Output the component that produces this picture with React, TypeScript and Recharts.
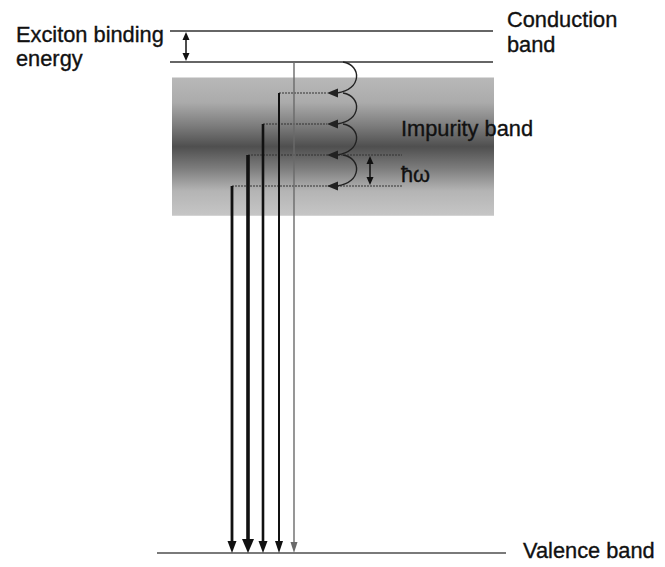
import React from "react";
import {
  ComposedChart,
  Line,
  XAxis,
  YAxis,
  ReferenceLine,
  ReferenceArea,
} from "recharts";

// energies in units of the phonon energy (hbar omega), conduction band = 0
const conductionE = 0;
const excitonE = -1;
const valenceE = -16.84;
const impurityTop = -1.5;
const impurityBottom = -5.96;
const cascadeLevels = [-2, -3, -4, -5];
// radiative transitions: start level and horizontal place (x units)
const transitionStart = [-1, -2, -3, -4, -5];
const transitionX = [294, 279, 263, 248, 232];
// horizontal extents (x units)
const bandLeft = 170;
const bandRight = 493;
const valenceLeft = 157;
const valenceRight = 506;
const loopX = 343;
const arrowTipX = 327;
const dotEnd = [327, 327, 402, 402];
const bindingArrowX = 186;
const phononArrowX = 370;

const conductionLine = [
  { x: bandLeft, y: conductionE },
  { x: bandRight, y: conductionE },
];
const excitonLine = [
  { x: bandLeft, y: excitonE },
  { x: bandRight, y: excitonE },
];

const labels = [
  "Exciton binding",
  "energy",
  "Conduction",
  "band",
  "Impurity band",
  "ħω",
  "Valence band",
];

const transitionStyle = [
  { stroke: "#6a6a6a", w: 1.4, hw: 7, hh: 11 },
  { stroke: "#111", w: 2, hw: 8, hh: 12 },
  { stroke: "#111", w: 2.6, hw: 9, hh: 12 },
  { stroke: "#111", w: 3.6, hw: 12, hh: 14 },
  { stroke: "#111", w: 2.8, hw: 9, hh: 12 },
];

const labelPos = [
  [16, 42],
  [16, 66],
  [507, 27],
  [507, 52],
  [401, 136],
  [401, 182],
  [523, 558],
];

const font = "'Liberation Sans', Arial, sans-serif";

const ArrowDown = ({ x1, y1, x2, y2, stroke, strokeWidth, hw, hh }: any) => (
  <g>
    <line x1={x1} y1={y1} x2={x2} y2={y2 - hh + 1} stroke={stroke} strokeWidth={strokeWidth} />
    <polygon
      points={`${x2},${y2} ${x2 - hw / 2},${y2 - hh} ${x2 + hw / 2},${y2 - hh}`}
      fill={stroke}
    />
  </g>
);

const DoubleArrow = ({ x1, y1, x2, y2, stroke }: any) => {
  const top = Math.min(y1, y2);
  const bot = Math.max(y1, y2);
  return (
    <g>
      <line x1={x1} y1={top + 7} x2={x2} y2={bot - 7} stroke={stroke} strokeWidth={1.5} />
      <polygon points={`${x1},${top + 1} ${x1 - 3.5},${top + 9} ${x1 + 3.5},${top + 9}`} fill={stroke} />
      <polygon points={`${x2},${bot - 1} ${x2 - 3.5},${bot - 9} ${x2 + 3.5},${bot - 9}`} fill={stroke} />
    </g>
  );
};

const Loop = ({ x1, y1, x2, y2, stroke }: any) => (
  <g>
    <path
      d={`M${x1},${y1} C${x1 + 19},${y1 + 3} ${x1 + 19},${y2 - 3} ${x2 + 10},${y2}`}
      fill="none"
      stroke={stroke}
      strokeWidth={1.4}
    />
    <polygon points={`${x2},${y2} ${x2 + 11},${y2 - 4.5} ${x2 + 11},${y2 + 4.5}`} fill={stroke} />
  </g>
);

export default function App() {
  return (
    <div style={{ position: "absolute", left: 0, top: 0, width: 665, height: 567, background: "#fff" }}>
      <ComposedChart
        width={665}
        height={567}
        margin={{ top: 0, right: 0, bottom: 0, left: 0 }}
      >
        <defs>
          <linearGradient id="impurity" x1="0" y1="0" x2="0" y2="1">
            <stop offset="0%" stopColor="#b8b8b8" />
            <stop offset="18%" stopColor="#ababab" />
            <stop offset="35%" stopColor="#7c7c7c" />
            <stop offset="50%" stopColor="#4f4f4f" />
            <stop offset="65%" stopColor="#7a7a7a" />
            <stop offset="82%" stopColor="#b4b4b4" />
            <stop offset="100%" stopColor="#c6c6c6" />
          </linearGradient>
        </defs>
        <XAxis type="number" dataKey="x" domain={[0, 665]} allowDataOverflow hide />
        <YAxis type="number" dataKey="y" domain={[-17.29, 1]} allowDataOverflow hide />

        <ReferenceArea
          x1={bandLeft + 2}
          x2={bandRight + 1}
          y1={impurityTop}
          y2={impurityBottom}
          fill="url(#impurity)"
          fillOpacity={1}
          stroke="none"
          ifOverflow="visible"
        />

        <Line data={conductionLine} dataKey="y" stroke="#333" strokeWidth={1.4} dot={false} activeDot={false} isAnimationActive={false} />
        <Line data={excitonLine} dataKey="y" stroke="#333" strokeWidth={1.4} dot={false} activeDot={false} isAnimationActive={false} />
        <ReferenceLine
          segment={[{ x: valenceLeft, y: valenceE }, { x: valenceRight, y: valenceE }]}
          stroke="#7a7a7a"
          strokeWidth={2}
          ifOverflow="visible"
        />

        {cascadeLevels.map((e, i) => (
          <ReferenceLine
            key={"dot" + i}
            segment={[{ x: transitionX[i + 1], y: e }, { x: dotEnd[i], y: e }]}
            stroke="#333"
            strokeWidth={1.2}
            strokeDasharray="2 1"
            ifOverflow="visible"
          />
        ))}

        {cascadeLevels.map((e, i) => (
          <ReferenceLine
            key={"loop" + i}
            segment={[{ x: loopX, y: e + 1 }, { x: arrowTipX, y: e }]}
            stroke="#222"
            ifOverflow="visible"
            shape={(p: any) => <Loop {...p} />}
          />
        ))}

        {transitionStart.map((e, i) => (
          <ReferenceLine
            key={"tr" + i}
            segment={[{ x: transitionX[i], y: e }, { x: transitionX[i], y: valenceE }]}
            stroke={transitionStyle[i].stroke}
            strokeWidth={transitionStyle[i].w}
            ifOverflow="visible"
            shape={(p: any) => (
              <ArrowDown {...p} hw={transitionStyle[i].hw} hh={transitionStyle[i].hh} />
            )}
          />
        ))}

        <ReferenceLine
          segment={[{ x: bindingArrowX, y: conductionE }, { x: bindingArrowX, y: excitonE }]}
          stroke="#111"
          ifOverflow="visible"
          shape={(p: any) => <DoubleArrow {...p} />}
        />
        <ReferenceLine
          segment={[{ x: phononArrowX, y: cascadeLevels[2] }, { x: phononArrowX, y: cascadeLevels[3] }]}
          stroke="#111"
          ifOverflow="visible"
          shape={(p: any) => <DoubleArrow {...p} />}
        />
      </ComposedChart>

      {/* labels sit above the band, so they go on an overlay */}
      <svg
        width={665}
        height={567}
        style={{ position: "absolute", left: 0, top: 0, pointerEvents: "none" }}
      >
        <g fontFamily={font} fontSize={21.8} fill="#111" stroke="#111" strokeWidth={0.35}>
          {labels.map((t, i) => (
            <text key={t} x={labelPos[i][0]} y={labelPos[i][1]}>
              {t}
            </text>
          ))}
        </g>
      </svg>
    </div>
  );
}
